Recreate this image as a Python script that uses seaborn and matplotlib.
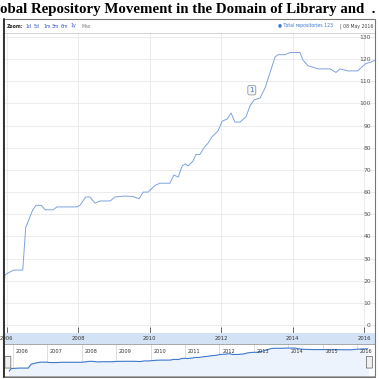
"""
Recreation of an annotated time-line screenshot: growth of total
repositories (Library and Information Science domain), 2005-2016.
"""

import pandas as pd
import seaborn as sns
import matplotlib.pyplot as plt
from matplotlib.patches import Rectangle, FancyBboxPatch
from matplotlib.transforms import blended_transform_factory

#%% data
dates = ["2005-11-25", "2005-12-15", "2006-01-15", "2006-03-15", "2006-06-15",
         "2006-07-15", "2006-08-15", "2006-09-25", "2006-10-28", "2006-12-20",
         "2007-01-30", "2007-04-20", "2007-05-30", "2007-12-20", "2008-01-20",
         "2008-03-20", "2008-05-01", "2008-06-22", "2008-08-13", "2008-11-24",
         "2009-01-12", "2009-04-22", "2009-07-15", "2009-09-15", "2009-10-27",
         "2009-12-16", "2010-02-25", "2010-04-16", "2010-07-27", "2010-09-07",
         "2010-10-20", "2010-11-30", "2010-12-30", "2011-01-30", "2011-03-20",
         "2011-04-20", "2011-05-30", "2011-07-10", "2011-08-20", "2011-10-01",
         "2011-12-01", "2012-01-12", "2012-03-05", "2012-04-12", "2012-05-22",
         "2012-07-13", "2012-09-12", "2012-10-24", "2012-12-05", "2013-02-03",
         "2013-03-26", "2013-05-16", "2013-07-06", "2013-08-05", "2013-10-15",
         "2013-12-05", "2014-03-17", "2014-04-17", "2014-06-07", "2014-07-18",
         "2014-09-18", "2015-01-18", "2015-03-20", "2015-05-01", "2015-07-20",
         "2015-10-30", "2015-12-10", "2016-01-20", "2016-03-12", "2016-04-22"]

total_repositories = [10, 22.6, 23.5, 24.8, 24.8, 44, 47.4, 52, 54, 54,
                      52, 52, 53.3, 53.3, 54, 57.8, 57.8, 55, 56, 56,
                      57.8, 58.2, 58, 57, 60, 60, 63, 64, 64, 67.7,
                      66.8, 71.8, 72.7, 71.8, 74, 77, 77, 80, 82, 85,
                      87.6, 92, 93, 95.7, 91.6, 91.6, 94, 99, 101.6, 102.5,
                      107, 114, 121, 122, 122, 123, 123, 119.6, 117, 116.5,
                      115.6, 115.6, 114, 115.6, 114.7, 114.7, 116.5, 118, 118.7, 119.5]

y_ticks = [0, 10, 20, 30, 40, 50, 60, 70, 80, 90, 100, 110, 120, 130]
main_years = ["2006", "2008", "2010", "2012", "2014", "2016"]
nav_years = ["2006", "2007", "2008", "2009", "2010", "2011",
             "2012", "2013", "2014", "2015", "2016"]

title = "obal Repository Movement in the Domain of Library and  ."
zoom_links = ["1d", "5d", "1m", "3m", "6m", "1y"]
legend_label = "\u25cf Total repositories 123"
legend_date = "| 08 May 2016"
annotation_date = "2012-11-10"
annotation_value = 106

#%%
W = H = 379
LINE = '#7ea2e0'
NAV_LINE = '#3f78cc'
BAND = '#d3e2f5'


def px_box(x0, y0, x1, y1):
    """Figure-fraction rectangle from pixel corners (origin top-left)."""
    return [x0 / W, 1 - y1 / H, (x1 - x0) / W, (y1 - y0) / H]


sns.set_theme(style="white")
plt.rcParams['font.family'] = ['DejaVu Sans']

df = pd.DataFrame({'date': pd.to_datetime(dates), 'total': total_repositories})

fig = plt.figure(figsize=(W / 100, H / 100), dpi=100)
fig.patch.set_facecolor('white')

# title (cropped in the screenshot)
fig.text(0.0, 1 - 9 / H, title, family='Liberation Serif', weight='bold',
         fontsize=10.7, ha='left', va='center', color='black')

# toolbar
fig.text(7 / W, 1 - 26 / H, "Zoom:", fontsize=3.3, ha='left', va='center',
         color='#222222', weight='bold')
for i, link in enumerate(zoom_links):
    fig.text((25 + i * 9) / W, 1 - 26 / H, link, fontsize=3.3, ha='left',
             va='center', color='#3355cc')
fig.text(81 / W, 1 - 26 / H, "Max", fontsize=3.3, ha='left', va='center',
         color='#777777')
fig.text(278 / W, 1 - 26 / H, legend_label, fontsize=3.3, ha='left',
         va='center', color='#3f78cc')
fig.text(373 / W, 1 - 26 / H, legend_date, fontsize=3.3, ha='right',
         va='center', color='#444444')

# main chart
ax = fig.add_axes(px_box(3, 33, 375, 333))
sns.lineplot(data=df, x='date', y='total', ax=ax, color=LINE, lw=0.7)
ax.set_xlim(pd.Timestamp("2005-11-25"), pd.Timestamp("2016-04-22"))
ax.set_ylim(-3.6, 131.8)
ax.set_yticks(y_ticks)
ax.yaxis.tick_right()
ax.tick_params(axis='y', length=0, pad=-3, labelsize=4.3, labelcolor='#555555')
for lab in ax.get_yticklabels():
    lab.set_horizontalalignment('right')
ax.set_xticks(pd.to_datetime(main_years))
ax.tick_params(axis='x', direction='in', length=4, width=0.6, color='#555555',
               labelbottom=False, bottom=True)
ax.grid(True, color='#e9e9e9', lw=0.6)
ax.set_xlabel('')
ax.set_ylabel('')
for side in ['left', 'right', 'bottom']:
    ax.spines[side].set_visible(False)
ax.spines['top'].set_color('#cccccc')
ax.spines['top'].set_linewidth(0.6)

# annotation flag
flag_x = pd.Timestamp(annotation_date)
ax.annotate("1", (flag_x, annotation_value), ha='center', va='center',
            fontsize=5, color='#3f78cc',
            bbox=dict(boxstyle='round,pad=0.25', fc='#f4f4f4', ec='#999999', lw=0.6))

# date band under the chart
band = fig.add_axes(px_box(3, 333, 375, 344), sharex=ax)
band.set_facecolor(BAND)
band.set_yticks([])
band.set_xticks(pd.to_datetime(main_years))
band.set_xticklabels(main_years)
band.tick_params(axis='x', length=0, pad=-6, labelsize=3.8, labelcolor='#333333')
for s in band.spines.values():
    s.set_visible(False)

# navigator
nav = fig.add_axes(px_box(3, 344, 375, 376))
sns.lineplot(data=df, x='date', y='total', ax=nav, color=NAV_LINE, lw=0.8)
nav.fill_between(df['date'], df['total'], -20, color='#edf3fc')
nav.set_xlim(pd.Timestamp("2005-09-20"), pd.Timestamp("2016-07-08"))
nav.set_ylim(-14, 143)
nav.set_xticks([])
nav.set_yticks([])
nav.set_xlabel('')
nav.set_ylabel('')
blend = blended_transform_factory(nav.transData, nav.transAxes)
for yr in nav_years:
    t = pd.Timestamp(yr + "-01-01")
    nav.axvline(t, color='#d8d8d8', lw=0.6, zorder=0)
    nav.text(t + pd.Timedelta(days=30), 0.76, yr, transform=blend, fontsize=3.6,
             ha='left', va='center', color='#333333')
for s in nav.spines.values():
    s.set_color('#999999')
    s.set_linewidth(0.6)
# range handles
for hx in [0.013, 0.985]:
    nav.add_patch(FancyBboxPatch((hx - 0.006, 0.25), 0.012, 0.36,
                                 boxstyle='round,pad=0.002', transform=nav.transAxes,
                                 fc='#f0f0f0', ec='#777777', lw=0.6, zorder=5))

# outer frame of the widget
fig.patches.append(Rectangle((3 / W, 1 - 377 / H), 372 / W, 358 / H,
                             transform=fig.transFigure, fill=False,
                             ec='#777777', lw=0.8))
fig.lines.append(plt.Line2D([3.5 / W, 3.5 / W], [1 - 377 / H, 1 - 19 / H],
                            transform=fig.transFigure, color='#333333', lw=1.4))

fig.savefig('out.png', dpi=100)
